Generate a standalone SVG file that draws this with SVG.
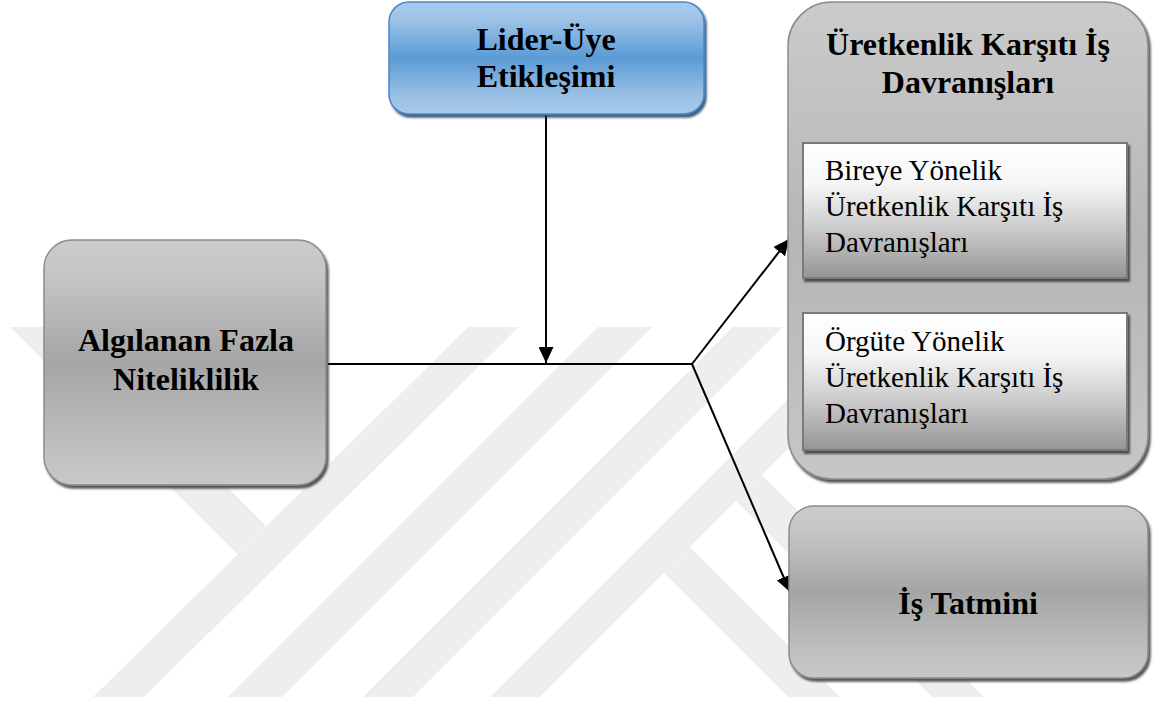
<svg xmlns="http://www.w3.org/2000/svg" width="1155" height="702" viewBox="0 0 1155 702">
  <style>
    .title { font-family: "Liberation Serif", "Times New Roman", serif; font-weight: bold; font-size: 32px; fill: #000; text-anchor: middle; }
    .item { font-family: "Liberation Serif", "Times New Roman", serif; font-size: 29px; fill: #000; }
    .gray { fill: url(#grayGrad); stroke: #8c8c8c; stroke-width: 1.5; filter: url(#shadow); }
    .group { fill: url(#groupGrad); stroke: #8c8c8c; stroke-width: 1.5; filter: url(#shadow); }
    .inner { fill: url(#innerGrad); stroke: #7a7a7a; stroke-width: 2; filter: url(#shadow); }
    .blue { fill: url(#blueGrad); stroke: #4a86c6; stroke-width: 1.5; filter: url(#shadowBlue); }
    .wm { fill: #eeeeee; }
    .link { fill: none; stroke: #000; stroke-width: 2; marker-end: url(#arrow); }
  </style>
  <defs>
    <linearGradient id="grayGrad" x1="0" y1="0" x2="0" y2="1">
      <stop offset="0" stop-color="#cbcbcb"/>
      <stop offset="0.15" stop-color="#c5c5c5"/>
      <stop offset="0.5" stop-color="#a5a5a5"/>
      <stop offset="0.85" stop-color="#c0c0c0"/>
      <stop offset="1" stop-color="#c8c8c8"/>
    </linearGradient>
    <linearGradient id="groupGrad" x1="0" y1="0" x2="0" y2="1">
      <stop offset="0" stop-color="#cbcbcb"/>
      <stop offset="0.5" stop-color="#b6b6b6"/>
      <stop offset="1" stop-color="#c6c6c6"/>
    </linearGradient>
    <linearGradient id="blueGrad" x1="0" y1="0" x2="0" y2="1">
      <stop offset="0" stop-color="#a9cbeb"/>
      <stop offset="0.15" stop-color="#9ec3e7"/>
      <stop offset="0.5" stop-color="#5b9bd5"/>
      <stop offset="0.85" stop-color="#9cc2e6"/>
      <stop offset="1" stop-color="#a6c9ea"/>
    </linearGradient>
    <linearGradient id="innerGrad" x1="0" y1="0" x2="0" y2="1">
      <stop offset="0" stop-color="#ffffff"/>
      <stop offset="0.3" stop-color="#f6f6f6"/>
      <stop offset="0.6" stop-color="#d0d0d0"/>
      <stop offset="1" stop-color="#959595"/>
    </linearGradient>
    <filter id="shadow" x="-5%" y="-5%" width="112%" height="115%">
      <feDropShadow dx="2" dy="3" stdDeviation="1" flood-color="#3a3a3a" flood-opacity="0.85"/>
    </filter>
    <filter id="shadowBlue" x="-5%" y="-5%" width="112%" height="115%">
      <feDropShadow dx="2" dy="3" stdDeviation="1" flood-color="#1f3f66" flood-opacity="0.85"/>
    </filter>
    <marker id="arrow" markerUnits="userSpaceOnUse" markerWidth="16" markerHeight="15" refX="16" refY="7.5" orient="auto">
      <path d="M0,0 L16,7.5 L0,15 z" fill="#000"/>
    </marker>
  </defs>

  <rect width="1155" height="702" fill="#fff"/>

  <!-- faint background emblem -->
  <g id="emblem">
    <polygon class="wm" points="10,327 67,327 266,526 237.5,554.5"/>
    <polygon class="wm" points="468,327 519,327 144,697 93,697"/>
    <polygon class="wm" points="598,327 652,327 282,697 228,697"/>
    <polygon class="wm" points="733,327 783,327 413,697 363,697"/>
    <polygon class="wm" points="860,327 910,327 540,697 490,697"/>
    <polygon class="wm" points="690,547 840,697 788,697 664,573"/>
    <polygon class="wm" points="762,475 984,697 932,697 736,501"/>
  </g>

  <!-- connectors -->
  <g id="connectors">
    <line class="link" x1="546" y1="115" x2="546" y2="363"/>
    <line x1="328" y1="364" x2="692" y2="364" stroke="#000" stroke-width="2"/>
    <line class="link" x1="692" y1="364" x2="789" y2="239"/>
    <line class="link" x1="692" y1="364" x2="790" y2="592"/>
  </g>

  <g id="node-lider">
    <rect class="blue" x="389" y="2" width="315" height="112" rx="20" ry="20"/>
    <text class="title" x="546" y="50">Lider-Üye</text>
    <text class="title" x="546" y="87">Etikleşimi</text>
  </g>

  <g id="node-algilanan">
    <rect class="gray" x="44" y="240" width="282" height="245" rx="28" ry="28"/>
    <text class="title" x="186" y="351">Algılanan Fazla</text>
    <text class="title" x="186" y="390">Niteliklilik</text>
  </g>

  <g id="node-ukid">
    <rect class="group" x="788" y="2" width="360" height="477" rx="44" ry="44"/>
    <text class="title" x="968" y="55">Üretkenlik Karşıtı İş</text>
    <text class="title" x="968" y="93">Davranışları</text>
  </g>

  <g id="node-bireye">
    <rect class="inner" x="803" y="143" width="324" height="135"/>
    <text class="item" x="825" y="180">Bireye Yönelik</text>
    <text class="item" x="825" y="216">Üretkenlik Karşıtı İş</text>
    <text class="item" x="825" y="252">Davranışları</text>
  </g>

  <g id="node-orgute">
    <rect class="inner" x="803" y="313" width="324" height="137"/>
    <text class="item" x="825" y="351">Örgüte Yönelik</text>
    <text class="item" x="825" y="387">Üretkenlik Karşıtı İş</text>
    <text class="item" x="825" y="423">Davranışları</text>
  </g>

  <g id="node-tatmin">
    <rect class="gray" x="789" y="506" width="359" height="172" rx="25" ry="25"/>
    <text class="title" x="968" y="614">İş Tatmini</text>
  </g>
</svg>
